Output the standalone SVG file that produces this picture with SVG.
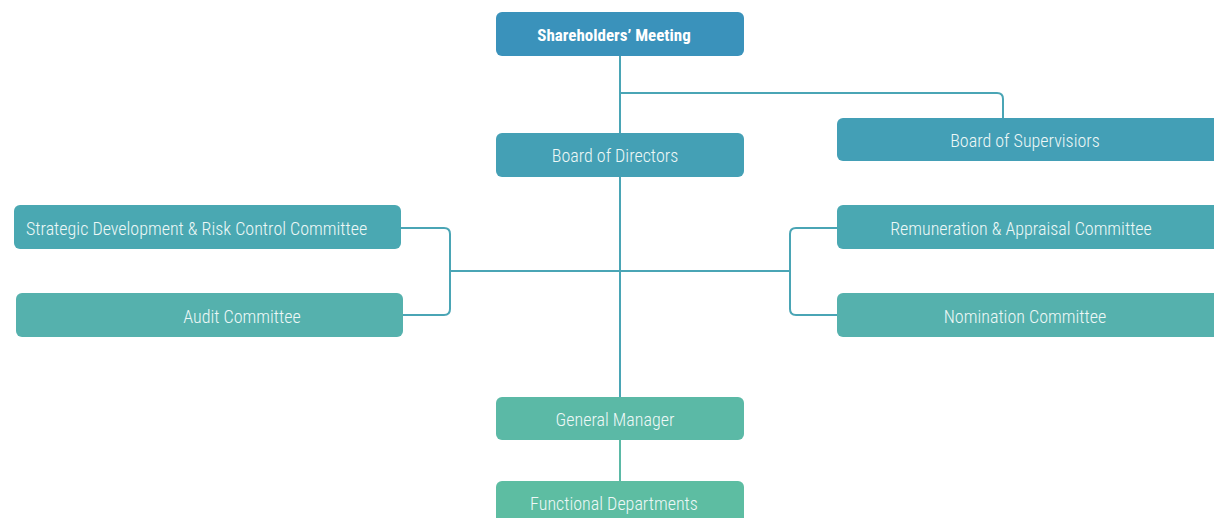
<svg xmlns="http://www.w3.org/2000/svg" width="1214" height="518" viewBox="0 0 1214 518">
<style>
.t{font-family:"Liberation Sans Narrow","Roboto Condensed","Liberation Sans",sans-serif;font-size:18px;font-weight:300;fill:#eef8f7;text-anchor:middle;dominant-baseline:central}
.b{font-weight:bold;fill:#ffffff;font-size:17px}
.c{fill:none;stroke:#4aa5b5;stroke-width:2}
</style>
<rect width="1214" height="518" fill="#ffffff"/>
<g id="connectors">
<path class="c" d="M620 56 V397"/>
<path class="c" d="M620 93 H997 Q1003 93 1003 99 V118"/>
<path class="c" d="M401 228 H444 Q450 228 450 234 V309 Q450 315 444 315 H403"/>
<path class="c" d="M450 271 H790"/>
<path class="c" d="M837 228 H796 Q790 228 790 234 V309 Q790 315 796 315 H837"/>
<path class="c" d="M620 440 V481" style="stroke:#5bb9a6"/>
</g>
<g id="shareholders">
<rect x="496" y="12" width="248" height="44" rx="6" fill="#3a92bb"/>
<text class="t b" x="614" y="34.5">Shareholders’ Meeting</text>
</g>
<g id="board-directors">
<rect x="496" y="133" width="248" height="44" rx="6" fill="#44a0b5"/>
<text class="t" x="615" y="155">Board of Directors</text>
</g>
<g id="board-supervisors">
<rect x="837" y="118" width="390" height="43" rx="6" fill="#439fb6"/>
<text class="t" x="1025" y="140">Board of Supervisiors</text>
</g>
<g id="strategic">
<rect x="14" y="205" width="387" height="44" rx="6" fill="#4aa8b2"/>
<text class="t" x="26" y="228" style="text-anchor:start">Strategic Development &amp; Risk Control Committee</text>
</g>
<g id="audit">
<rect x="16" y="293" width="387" height="44" rx="6" fill="#55b1ad"/>
<text class="t" x="242" y="316">Audit Committee</text>
</g>
<g id="remuneration">
<rect x="837" y="205" width="390" height="44" rx="6" fill="#4aa8b2"/>
<text class="t" x="1021" y="228">Remuneration &amp; Appraisal Committee</text>
</g>
<g id="nomination">
<rect x="837" y="293" width="390" height="44" rx="6" fill="#55b1ad"/>
<text class="t" x="1025" y="316">Nomination Committee</text>
</g>
<g id="general-manager">
<rect x="496" y="397" width="248" height="43" rx="6" fill="#5bb9a6"/>
<text class="t" x="615" y="419">General Manager</text>
</g>
<g id="functional">
<rect x="496" y="481" width="248" height="44" rx="6" fill="#5dbda2"/>
<text class="t" x="614" y="503">Functional Departments</text>
</g>
</svg>
